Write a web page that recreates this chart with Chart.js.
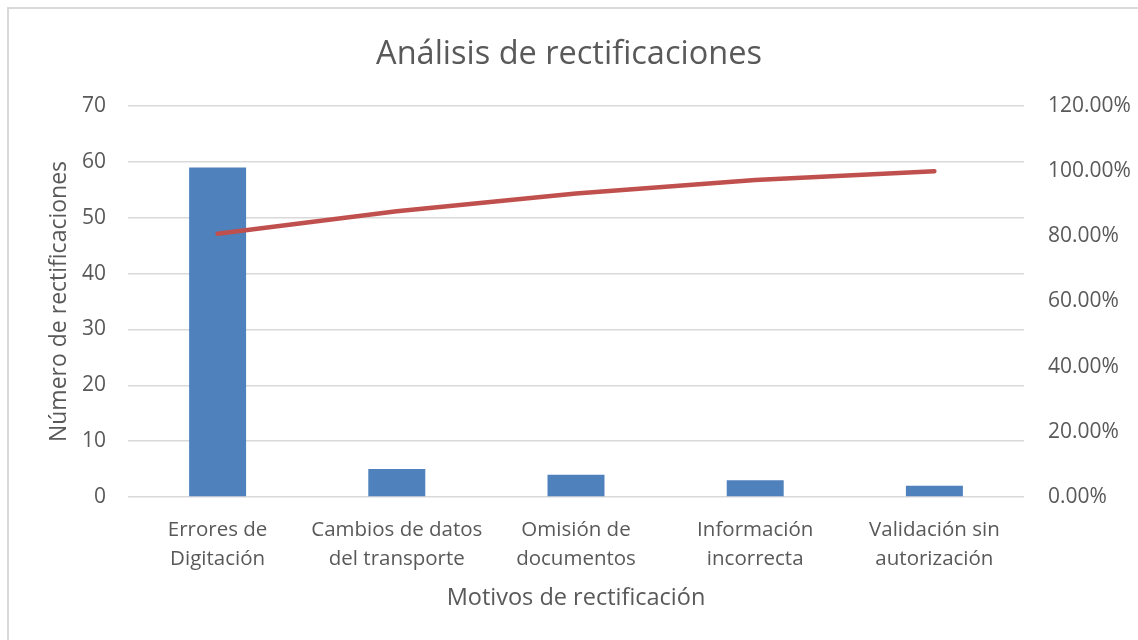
<!DOCTYPE html>
<html>
<head>
<meta charset="utf-8">
<script src="https://cdn.jsdelivr.net/npm/chart.js@4"></script>
<style>
  html, body { margin: 0; padding: 0; background: #fff; }
  #wrap { position: relative; width: 1138px; height: 640px; overflow: hidden; }
  #frame { position: absolute; left: 7px; top: 7px; width: 1140px; height: 640px; border: 2px solid #d9d9d9; box-sizing: border-box; }
  canvas { position: absolute; left: 0; top: 0; }
</style>
</head>
<body>
<div id="wrap">
  <div id="frame"></div>
  <canvas id="c" width="1138" height="640"></canvas>
</div>
<script>
const categories = [
  ["Errores de", "Digitación"],
  ["Cambios de datos", "del transporte"],
  ["Omisión de", "documentos"],
  ["Información", "incorrecta"],
  ["Validación sin", "autorización"]
];
const counts = [59, 5, 4, 3, 2];
const cumulativePct = [80.82, 87.67, 93.15, 97.26, 100.00];
const leftTicks = [0, 10, 20, 30, 40, 50, 60, 70];
const rightTicks = [0, 20, 40, 60, 80, 100, 120];

const TXT = '#595959';
const FONT = "'Open Sans', sans-serif";

new Chart(document.getElementById('c'), {
  data: {
    labels: categories,
    datasets: [
      {
        type: 'line',
        data: cumulativePct,
        yAxisID: 'y2',
        borderColor: '#c0504d',
        borderWidth: 4.5,
        borderCapStyle: 'round',
        pointRadius: 0,
        tension: 0,
        order: 0
      },
      {
        type: 'bar',
        data: counts,
        yAxisID: 'y',
        backgroundColor: '#4f81bd',
        categoryPercentage: 1,
        barPercentage: 0.318,
        order: 1
      }
    ]
  },
  options: {
    responsive: false,
    animation: false,
    layout: { padding: { left: 0, right: 0, top: 0, bottom: 0 } },
    plugins: {
      legend: { display: false },
      tooltip: { enabled: false },
      title: {
        display: true,
        text: 'Análisis de rectificaciones',
        color: TXT,
        font: { family: FONT, size: 32.5, weight: 'normal' },
        padding: { top: 35, bottom: 32 }
      }
    },
    scales: {
      x: {
        grid: { display: false, drawTicks: false },
        border: { display: false },
        ticks: { color: TXT, font: { family: FONT, size: 20.5, lineHeight: 1.45 }, padding: 18, maxRotation: 0, autoSkip: false },
        title: { display: true, text: 'Motivos de rectificación', color: TXT, font: { family: FONT, size: 23.5 }, padding: { top: 0, bottom: 28 } },
        afterFit: s => { s.height = 640 - 497; }
      },
      y: {
        position: 'left',
        min: 0, max: 70,
        afterBuildTicks: s => { s.ticks = leftTicks.map(v => ({ value: v })); },
        grid: { color: '#d9d9d9', lineWidth: 1.5, drawTicks: false },
        border: { display: false },
        ticks: { color: TXT, font: { family: FONT, size: 21 }, padding: 22 },
        title: { display: true, text: 'Número de rectificaciones', color: TXT, font: { family: FONT, size: 23 }, padding: { top: 46, bottom: 0 } },
        afterFit: s => { s.width = 128; }
      },
      y2: {
        position: 'right',
        min: 0, max: 120,
        afterBuildTicks: s => { s.ticks = rightTicks.map(v => ({ value: v })); },
        grid: { display: false, drawTicks: false },
        border: { display: false },
        ticks: { color: TXT, font: { family: FONT, size: 21 }, padding: 24, callback: v => v.toFixed(2) + '%' },
        afterFit: s => { s.width = 1138 - 1024; }
      }
    }
  }
});
</script>
</body>
</html>
